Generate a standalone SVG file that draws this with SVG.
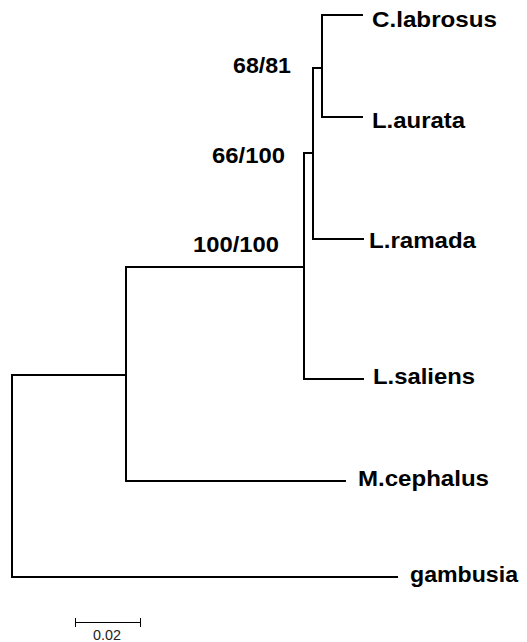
<svg xmlns="http://www.w3.org/2000/svg" width="527" height="642" viewBox="0 0 527 642">
<style>
.br{fill:none;stroke:#000;stroke-width:2;stroke-linecap:square}
.sb{fill:none;stroke:#000;stroke-width:1}
.tx{font-family:"Liberation Sans",Arial,sans-serif;font-weight:bold;font-size:22px;fill:#000}
.bs{font-family:"Liberation Sans",Arial,sans-serif;font-weight:bold;font-size:22px;fill:#000}
.sc{font-family:"Liberation Sans",Arial,sans-serif;font-size:14px;fill:#222}
</style>
<rect width="527" height="642" fill="#fff"/>
<g id="connectors">
<path class="br" d="M362,15 H322 V117 H362"/>
<path class="br" d="M322,68 H313 V239 H363"/>
<path class="br" d="M313,153 H304 V379 H363"/>
<path class="br" d="M304,267 H126 V481 H345"/>
<path class="br" d="M126,375 H12 V577 H397"/>
</g>
<g id="C_labrosus"><text class="tx" x="372" y="27" textLength="125" lengthAdjust="spacingAndGlyphs">C.labrosus</text></g>
<g id="L_aurata"><text class="tx" x="372" y="128" textLength="93" lengthAdjust="spacingAndGlyphs">L.aurata</text></g>
<g id="L_ramada"><text class="tx" x="369" y="248" textLength="107" lengthAdjust="spacingAndGlyphs">L.ramada</text></g>
<g id="L_saliens"><text class="tx" x="373" y="384" textLength="102" lengthAdjust="spacingAndGlyphs">L.saliens</text></g>
<g id="M_cephalus"><text class="tx" x="358" y="486" textLength="131" lengthAdjust="spacingAndGlyphs">M.cephalus</text></g>
<g id="gambusia"><text class="tx" x="410" y="582" textLength="108" lengthAdjust="spacingAndGlyphs">gambusia</text></g>
<g id="node_68_81"><text class="bs" x="233" y="73" textLength="58" lengthAdjust="spacingAndGlyphs">68/81</text></g>
<g id="node_66_100"><text class="bs" x="212" y="163" textLength="73" lengthAdjust="spacingAndGlyphs">66/100</text></g>
<g id="node_100_100"><text class="bs" x="193" y="252" textLength="86" lengthAdjust="spacingAndGlyphs">100/100</text></g>
<g id="scale_bar">
<path class="sb" d="M75,622.5 H140 M75.5,618 V627 M140.5,618 V627"/>
<text class="sc" x="93" y="639.5" textLength="28" lengthAdjust="spacingAndGlyphs">0.02</text>
</g>
</svg>
